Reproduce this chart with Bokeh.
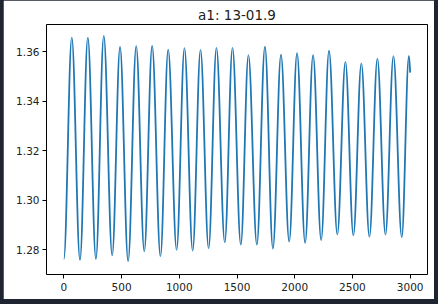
from bokeh.plotting import figure
from bokeh.layouts import column
from bokeh.models import FixedTicker, PrintfTickFormatter, Range1d
from bokeh.embed import file_html
from bokeh.resources import INLINE

# ---- data ----
start_x, start_y = 0, 1.2762
peak_x = [69, 208, 346, 487, 627, 765, 904, 1045, 1184, 1322, 1461, 1599,
          1742, 1881, 2020, 2159, 2297, 2439, 2577, 2716, 2855, 2989]
peak_y = [1.3658, 1.3658, 1.3665, 1.3620, 1.3623, 1.3624, 1.3609, 1.3615,
          1.3608, 1.3616, 1.3616, 1.3587, 1.3621, 1.3589, 1.3595, 1.3587,
          1.3605, 1.3560, 1.3554, 1.3573, 1.3583, 1.3584]
trough_x = [140, 278, 419, 557, 697, 837, 977, 1116, 1254, 1394, 1533, 1672,
            1811, 1952, 2090, 2229, 2369, 2508, 2647, 2786, 2927]
trough_y = [1.2758, 1.2762, 1.2777, 1.2753, 1.2793, 1.2773, 1.2799, 1.2796,
            1.2805, 1.2829, 1.2820, 1.2820, 1.2804, 1.2832, 1.2827, 1.2838,
            1.2861, 1.2857, 1.2851, 1.2861, 1.2850]
end_x, end_y = 3000, 1.3516

x_ticks = [0, 500, 1000, 1500, 2000, 2500, 3000]
y_ticks = [1.28, 1.30, 1.32, 1.34, 1.36]
title_text = "a1: 13-01.9"

# ordered extrema path
px = [start_x]
py = [start_y]
for i in range(len(peak_x)):
    px.append(peak_x[i]); py.append(peak_y[i])
    if i < len(trough_x):
        px.append(trough_x[i]); py.append(trough_y[i])
px.append(end_x); py.append(end_y)

K = 0.3634
x0 = px[:-1]; y0 = py[:-1]; x1 = px[1:]; y1 = py[1:]
cx0 = [a + K * (b - a) for a, b in zip(x0, x1)]
cy0 = list(y0)
cx1 = [b - K * (b - a) for a, b in zip(x0, x1)]
cy1 = list(y1)
# last partial segment: ends mid-slope
cx1[-1] = x1[-1] - 0.2 * (x1[-1] - x0[-1])
cy1[-1] = y1[-1] + 0.25 * (y0[-1] - y1[-1])

FONT = "DejaVu Sans"
TXT = "#222222"

p = figure(width=431, height=299, output_backend="svg", toolbar_location=None,
           x_range=Range1d(-150, 3150), y_range=Range1d(1.2699, 1.3711),
           min_border_left=43, min_border_right=7, min_border_top=24,
           min_border_bottom=25, margin=(0, 4, 5, 3))
p.background_fill_color = "white"
p.border_fill_color = "white"
p.outline_line_color = "black"
p.outline_line_width = 1
p.xgrid.visible = False
p.ygrid.visible = False

p.title.text = title_text
p.title.align = "center"
p.title.text_font = FONT
p.title.text_font_size = "13.5px"
p.title.text_font_style = "normal"
p.title.text_color = TXT
p.title.standoff = 3

p.bezier(x0=x0, y0=y0, x1=x1, y1=y1, cx0=cx0, cy0=cy0, cx1=cx1, cy1=cy1,
         line_color="#1f77b4", line_width=1.8)

for ax in (p.xaxis[0], p.yaxis[0]):
    ax.axis_line_color = None
    ax.major_tick_line_color = "black"
    ax.major_tick_line_width = 1
    ax.major_tick_out = 4
    ax.major_tick_in = 0
    ax.minor_tick_line_color = None
    ax.major_label_text_font = FONT
    ax.major_label_text_font_size = "10.5px"
    ax.major_label_text_color = TXT

p.xaxis[0].ticker = FixedTicker(ticks=x_ticks)
p.xaxis[0].major_label_standoff = 4
p.yaxis[0].ticker = FixedTicker(ticks=y_ticks)
p.yaxis[0].formatter = PrintfTickFormatter(format="%.2f")
p.yaxis[0].major_label_standoff = 3

layout = column(p, width=438, height=304, styles={"background-color": "#1e2530"})

open("out.html", "w").write(file_html(layout, INLINE))
